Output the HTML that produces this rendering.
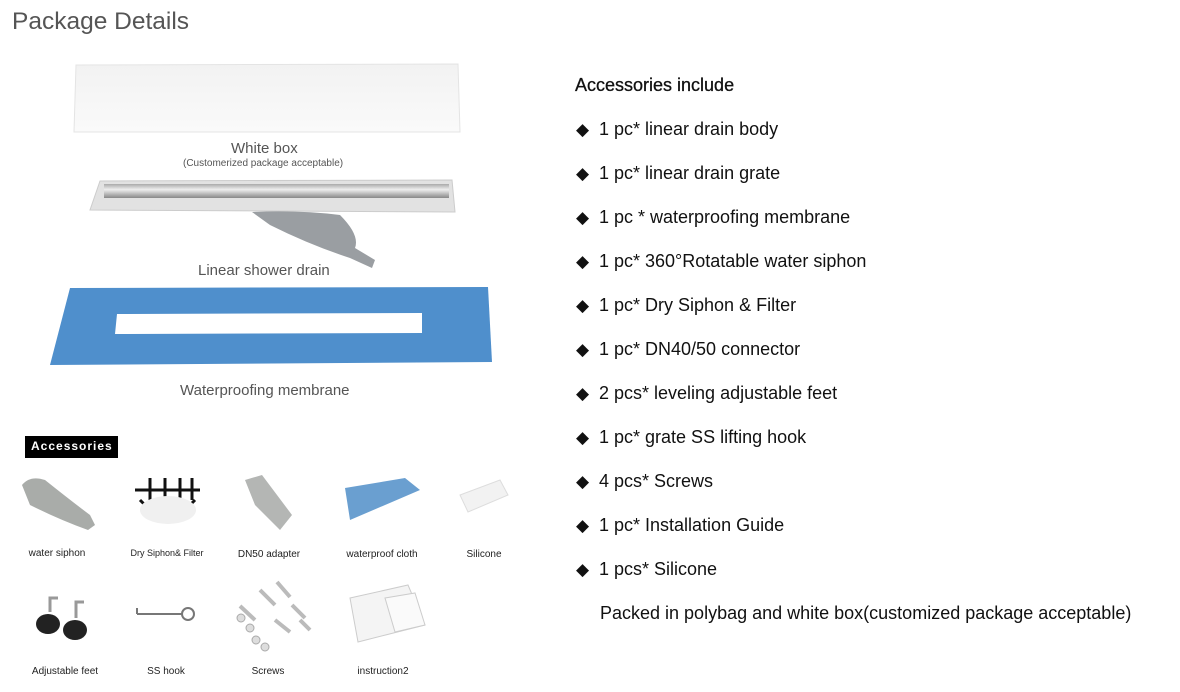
<!DOCTYPE html>
<html><head><meta charset="utf-8"><style>
body{margin:0;width:1180px;height:692px;background:#fff;position:relative;overflow:hidden;font-family:"Liberation Sans",Arial,sans-serif}
.a{position:absolute;white-space:nowrap}
.li{position:absolute;left:599px;font-size:18px;color:#111;white-space:nowrap}
.bu{position:absolute;left:576px;font-size:17px;color:#111}
.lb{position:absolute;font-size:10px;color:#222;text-align:center;width:100px}
</style></head><body>
<div class="a" style="left:12px;top:8px;font-size:24.5px;color:#555;">Package Details</div>
<svg class="a" style="left:0;top:0" width="540" height="692">
 <defs><linearGradient id="bx" x1="0" y1="0" x2="0" y2="1"><stop offset="0" stop-color="#f2f2f2"/><stop offset="1" stop-color="#fafafa"/></linearGradient>
 <linearGradient id="st" x1="0" y1="0" x2="0" y2="1"><stop offset="0" stop-color="#aaa"/><stop offset=".4" stop-color="#eee"/><stop offset="1" stop-color="#888"/></linearGradient></defs>
 <polygon points="76,65 458,64 460,132 74,132" fill="url(#bx)" stroke="#e4e4e4"/>
 <polygon points="100,181 452,180 455,212 90,210" fill="#e2e2e2" stroke="#ccc"/>
 <rect x="104" y="184" width="345" height="14" fill="url(#st)"/>
 <path d="M252,212 Q300,210 340,215 Q360,235 355,248 L375,260 L372,268 L350,258 Q310,245 270,225 Z" fill="#9a9ea2"/>
 <polygon points="70,288 488,287 492,362 50,365" fill="#4f8fcc"/>
 <polygon points="117,314 422,313 422,333 115,334" fill="#fff"/>
 <rect x="25" y="436" width="93" height="22" fill="#000"/>
 <path d="M22,485 Q30,475 45,480 Q70,500 90,515 L95,525 L88,530 Q60,520 30,505 Z" fill="#a9aca9"/>
 <g stroke="#111" stroke-width="3" fill="none"><path d="M135,490 H200 M150,478 V500 M165,478 V500 M180,478 V500 M192,478 V500 M140,500 L150,510 M195,500 L185,510"/></g>
 <ellipse cx="168" cy="510" rx="28" ry="14" fill="#f0f0f0"/>
 <path d="M245,480 L262,475 L292,515 L280,530 L255,505 Z" fill="#b4b6b4"/>
 <path d="M345,488 L405,478 L420,490 L350,520 Z" fill="#6a9fd0"/>
 <polygon points="460,495 500,480 508,495 468,512" fill="#f2f2f2" stroke="#ddd"/>
 <ellipse cx="48" cy="624" rx="12" ry="10" fill="#222"/><ellipse cx="75" cy="630" rx="12" ry="10" fill="#222"/>
 <path d="M50,612 V598 H58 M76,618 V602 H84" stroke="#999" stroke-width="3" fill="none"/>
 <path d="M137,614 V608 M137,614 H182" stroke="#777" stroke-width="2" fill="none"/><circle cx="188" cy="614" r="6" stroke="#777" stroke-width="2" fill="none"/>
 <g stroke="#bbb" stroke-width="4"><path d="M240,606 L255,620 M260,590 L275,605 M277,582 L290,597 M292,605 L305,618 M275,620 L290,632 M300,620 L310,630"/></g>
 <g fill="#ddd" stroke="#aaa"><circle cx="241" cy="618" r="4"/><circle cx="250" cy="628" r="4"/><circle cx="256" cy="640" r="4"/><circle cx="265" cy="647" r="4"/></g>
 <polygon points="350,598 408,585 425,625 358,642" fill="#f4f4f4" stroke="#ccc"/>
 <polygon points="385,598 415,593 425,625 395,632" fill="#fafafa" stroke="#ccc"/>
</svg>
<div class="a" style="left:231px;top:140px;font-size:15px;color:#555">White box</div>
<div class="a" style="left:183px;top:158px;font-size:10px;color:#555">(Customerized package acceptable)</div>
<div class="a" style="left:198px;top:262px;font-size:15px;color:#555">Linear shower drain</div>
<div class="a" style="left:180px;top:382px;font-size:15px;color:#555">Waterproofing membrane</div>
<div class="a" style="left:31px;top:439px;font-size:12px;color:#fff;font-weight:bold;letter-spacing:1px">Accessories</div>
<div class="lb" style="left:7px;top:548px">water siphon</div>
<div class="lb" style="left:117px;top:548px;font-size:9px">Dry Siphon&amp; Filter</div>
<div class="lb" style="left:219px;top:549px">DN50 adapter</div>
<div class="lb" style="left:332px;top:549px">waterproof cloth</div>
<div class="lb" style="left:434px;top:549px">Silicone</div>
<div class="lb" style="left:15px;top:666px">Adjustable feet</div>
<div class="lb" style="left:116px;top:666px">SS hook</div>
<div class="lb" style="left:218px;top:666px">Screws</div>
<div class="lb" style="left:333px;top:666px">instruction2</div>
<div class="a" style="left:575px;top:75px;font-size:18px;color:#111;-webkit-text-stroke:0.3px #111">Accessories include</div>
<div class="bu" style="top:120px">◆</div><div class="li" style="top:119px">1 pc* linear drain body</div>
<div class="bu" style="top:164px">◆</div><div class="li" style="top:163px">1 pc* linear drain grate</div>
<div class="bu" style="top:208px">◆</div><div class="li" style="top:207px">1 pc * waterproofing membrane</div>
<div class="bu" style="top:252px">◆</div><div class="li" style="top:251px">1 pc* 360°Rotatable water siphon</div>
<div class="bu" style="top:296px">◆</div><div class="li" style="top:295px">1 pc* Dry Siphon &amp; Filter</div>
<div class="bu" style="top:340px">◆</div><div class="li" style="top:339px">1 pc* DN40/50 connector</div>
<div class="bu" style="top:384px">◆</div><div class="li" style="top:383px">2 pcs* leveling adjustable feet</div>
<div class="bu" style="top:428px">◆</div><div class="li" style="top:427px">1 pc* grate SS lifting hook</div>
<div class="bu" style="top:472px">◆</div><div class="li" style="top:471px">4 pcs* Screws</div>
<div class="bu" style="top:516px">◆</div><div class="li" style="top:515px">1 pc* Installation Guide</div>
<div class="bu" style="top:560px">◆</div><div class="li" style="top:559px">1 pcs* Silicone</div>
<div class="li" style="left:600px;top:603px">Packed in polybag and white box(customized package acceptable)</div>
</body></html>
